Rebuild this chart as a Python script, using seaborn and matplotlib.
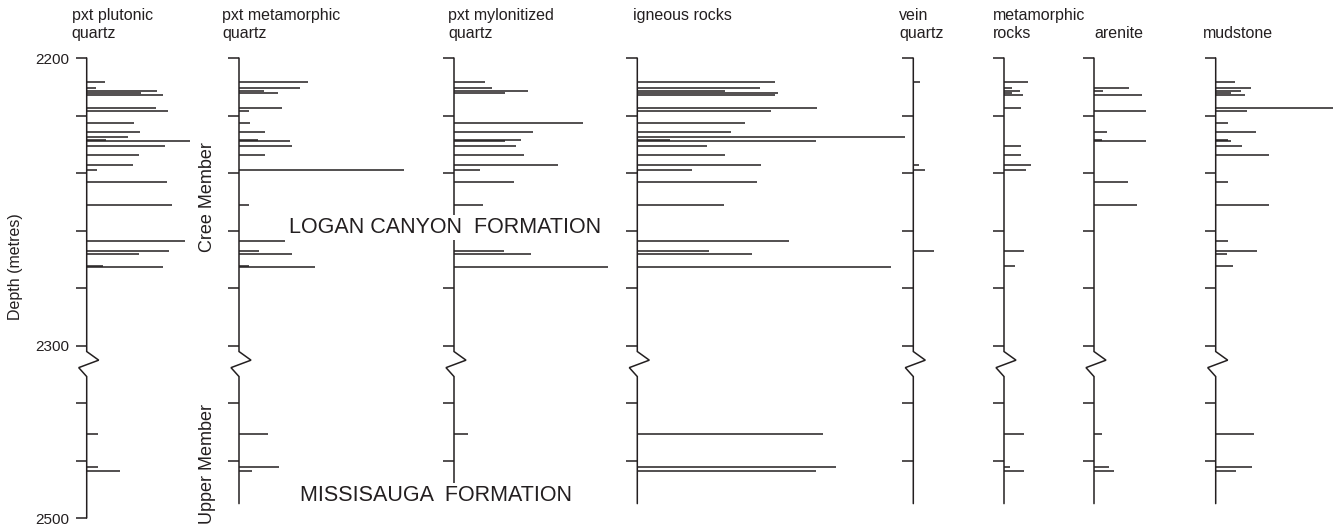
import numpy as np
import matplotlib
matplotlib.use("Agg")
import matplotlib.pyplot as plt
import seaborn as sns

# clast types (one column each); "\n" = line break in header
categories = ["pxt plutonic\nquartz", "pxt metamorphic\nquartz", "pxt mylonitized\nquartz",
              "igneous rocks", "vein\nquartz", "metamorphic\nrocks", "\narenite", "\nmudstone"]

# sample depths (m), shared by all columns
depth = [2208.2, 2210.4, 2211.5, 2212.3, 2213.0, 2217.4, 2218.3, 2222.7, 2225.8,
         2227.6, 2228.5, 2229.0, 2230.6, 2233.8, 2237.1, 2239.0, 2243.3, 2251.2,
         2263.7, 2267.0, 2268.1, 2272.3, 2272.7, 2470.7, 2482.1, 2483.7]

# abundance per sample (same order as depth)
plutonic = [1.8, 0.9, 7.0, 5.4, 7.6, 6.9, 8.1, 4.7, 5.3, 4.1, 1.9, 10.3, 7.8, 5.2, 4.6, 1.0,
            8.0, 8.5, 9.8, 8.2, 5.2, 1.6, 7.6, 1.1, 1.1, 3.3]
meta_qtz = [6.9, 6.1, 2.5, 3.9, 0, 4.3, 1.0, 1.1, 2.6, 0, 1.9, 5.1, 5.3, 2.6, 0, 16.5,
            0, 1.0, 4.6, 2.0, 5.3, 1.0, 7.6, 2.9, 4.0, 1.3]
mylonite = [3.1, 3.8, 7.4, 5.1, 0, 0, 0, 12.9, 7.9, 0, 6.7, 5.1, 6.2, 7.0, 10.4, 2.6,
            6.0, 2.9, 0, 5.0, 7.7, 0, 15.4, 1.4, 0, 0]
igneous = [13.8, 12.3, 8.8, 14.1, 13.8, 18.0, 13.4, 10.8, 9.4, 26.8, 3.3, 17.9, 7.0, 8.8,
           12.4, 5.5, 12.0, 8.7, 15.2, 7.2, 11.5, 0, 25.4, 18.6, 19.9, 17.9]
vein = [0.7, 0, 0, 0, 0, 0, 0, 0, 0, 0, 0, 0, 0, 0, 0.6, 1.2,
        0, 0, 0, 2.1, 0, 0, 0, 0, 0, 0]
meta_rock = [2.4, 0.8, 1.6, 0.8, 1.9, 1.7, 0, 0, 0, 0, 0, 0, 1.7, 1.7, 2.7, 2.2,
             0, 0, 0, 2.0, 0, 1.1, 0, 2.0, 0.6, 2.0]
arenite = [0, 3.5, 0.9, 0, 4.8, 0, 5.2, 0, 1.3, 0, 0.8, 5.2, 0, 0, 0, 0,
           3.4, 4.3, 0, 0, 0, 0, 0, 0.8, 1.5, 2.0]
mudstone = [1.9, 3.5, 2.5, 1.5, 2.9, 11.7, 3.1, 1.2, 4.0, 0, 1.2, 1.5, 2.6, 5.3, 0, 0,
            1.2, 5.3, 1.2, 4.1, 1.1, 1.7, 0, 3.8, 3.6, 2.0]
series = [plutonic, meta_qtz, mylonite, igneous, vein, meta_rock, arenite, mudstone]

depth_ticks = [2200, 2220, 2240, 2260, 2280, 2300, 2460, 2480, 2500]
depth_labels = ["2200", "", "", "", "", "2300", "", "", "2500"]

sns.set_style("ticks")
plt.rcParams['font.family'] = ['Liberation Sans', 'DejaVu Sans']
ink = '#231f20'

W, H = 1341, 529
fig = plt.figure(figsize=(W / 100, H / 100), dpi=100)

# depth axis has a break between 2300 and 2440 m
def fwd(d):
    d = np.asarray(d, float)
    return np.where(d > 2300, np.maximum(d - 140, 2300), d)

def inv(p):
    p = np.asarray(p, float)
    return np.where(p > 2300, p + 140, p)

col_x = [86.7, 239, 454, 637.3, 913.3, 1004, 1094, 1215.7]
title_x = [71.7, 222.3, 448.3, 632.7, 899.3, 993.3, 1094.3, 1203.3]
top_px, bot_px = 58, 518
px_per_unit = 10

d = np.array(depth)
for i, (name, vals) in enumerate(zip(categories, series)):
    x0 = col_x[i]
    x1 = col_x[i + 1] if i + 1 < len(col_x) else W
    ax = fig.add_axes([x0 / W, 1 - bot_px / H, (x1 - x0) / W, (bot_px - top_px) / H])
    ax.patch.set_alpha(0)
    ax.set_yscale('function', functions=(fwd, inv))
    ax.set_ylim(2500, 2200)
    ax.set_xlim(0, (x1 - x0) / px_per_unit)
    sns.despine(ax=ax, left=True, bottom=True)

    v = np.array(vals)
    m = v > 0
    ax.hlines(d[m], 0, v[m], color=ink, lw=1.1, clip_on=False)

    # axis line with break symbol
    end = 2500 if i == 0 else 2495
    ax.plot([0, 0, 1.2, -0.8, 0, 0], [2200, 2442.1, 2445.1, 2447.7, 2450.8, end],
            color=ink, lw=1.1, clip_on=False, solid_joinstyle='miter')

    if i == 0:
        ax.set_yticks(depth_ticks)
        ax.set_yticklabels(depth_labels)
    else:
        ax.set_yticks(depth_ticks[:-1])
        ax.set_yticklabels([])
    ax.minorticks_off()
    ax.tick_params(axis='y', direction='out', length=8, width=1.1, color=ink,
                   labelsize=11, labelcolor=ink, pad=4.5)
    ax.tick_params(axis='x', bottom=False, labelbottom=False)

    lines = name.split('\n')
    for k, line in enumerate(lines):
        if line:
            fig.text(title_x[i] / W, 1 - (20 + 18 * k) / H, line, fontsize=11.5,
                     color=ink, ha='left', va='baseline')

fig.text(16 / W, 1 - 267 / H, "Depth (metres)", rotation=90, fontsize=11.5,
         color=ink, ha='center', va='center')
fig.text(207 / W, 1 - 197 / H, "Cree Member", rotation=90, fontsize=13,
         color=ink, ha='center', va='center')
fig.text(207 / W, 1 - 464 / H, "Upper Member", rotation=90, fontsize=13,
         color=ink, ha='center', va='center')
fig.text(289 / W, 1 - 233 / H, "LOGAN CANYON  FORMATION", fontsize=15.5, color=ink,
         ha='left', va='baseline', bbox=dict(fc='white', ec='none', pad=1.5))
fig.text(300 / W, 1 - 501 / H, "MISSISAUGA  FORMATION", fontsize=15.5, color=ink,
         ha='left', va='baseline', bbox=dict(fc='white', ec='none', pad=1.5))

fig.savefig("out.png", dpi=100)
